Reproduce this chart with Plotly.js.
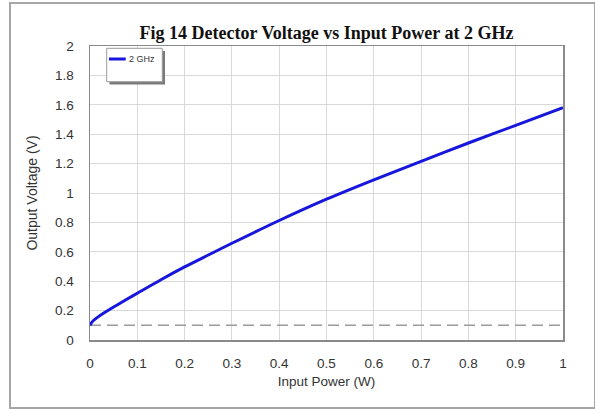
<!DOCTYPE html>
<html>
<head>
<meta charset="utf-8">
<script src="https://cdn.plot.ly/plotly-3.0.1.min.js"></script>
<style>
  html, body { margin: 0; padding: 0; background: #fff; }
  #wrap { position: relative; width: 595px; height: 409px; overflow: hidden; }
  #frame { position: absolute; left: 9px; top: 2px; width: 583px; height: 403px; border: 2px solid #a6a6a6; pointer-events: none; }
  #chart { position: absolute; left: 0; top: 0; width: 595px; height: 409px; }
</style>
</head>
<body>
<div id="wrap">
  <div id="chart"></div>
  <div id="frame"></div>
</div>
<script>
// Data
const seriesName = "2 GHz";
const inputPower = [0, 0.005, 0.015, 0.03, 0.05, 0.075, 0.1, 0.15, 0.2, 0.25, 0.3, 0.4, 0.5, 0.6, 0.7, 0.8, 0.9, 1.0];
const outputVoltage = [0.10, 0.125, 0.152, 0.185, 0.225, 0.272, 0.318, 0.41, 0.497, 0.578, 0.658, 0.813, 0.958, 1.09, 1.215, 1.34, 1.46, 1.58];
const referenceX = [0, 1];
const referenceY = [0.1, 0.1];

const chartTitle = "Fig 14 Detector Voltage vs Input Power at 2 GHz";
const xTitle = "Input Power (W)";
const yTitle = "Output Voltage (V)";

const traces = [
  {
    x: referenceX, y: referenceY, type: "scatter", mode: "lines",
    line: { color: "#9a9a9a", width: 1.5, dash: "11px,6px" },
    hoverinfo: "skip", showlegend: false
  },
  {
    x: inputPower, y: outputVoltage, type: "scatter", mode: "lines",
    name: seriesName,
    line: { color: "#1616dc", width: 3, shape: "spline", smoothing: 0.8 },
    showlegend: false
  }
];

// legend drawn as shapes (paper coordinates)
const L = 90, R = 563, T = 46, B = 340;
const px = v => (v - L) / (R - L);
const py = v => (B - v) / (B - T);

const shapes = [
  { type: "rect", xref: "paper", yref: "paper", layer: "above",
    x0: px(109.5), x1: px(165), y0: py(84.5), y1: py(51),
    fillcolor: "#7a7a7a", line: { width: 0 } },
  { type: "rect", xref: "paper", yref: "paper", layer: "above",
    x0: px(106.7), x1: px(162.3), y0: py(81.7), y1: py(48.3),
    fillcolor: "#ffffff", line: { color: "#9a9a9a", width: 1 } },
  { type: "line", xref: "paper", yref: "paper", layer: "above",
    x0: px(109), x1: px(125.7), y0: py(59), y1: py(59),
    line: { color: "#1616dc", width: 3 } }
];

const annotations = [
  { xref: "paper", yref: "paper", x: px(126.5), y: py(59), xanchor: "left", yanchor: "middle",
    text: seriesName, showarrow: false,
    font: { family: "Liberation Sans, Arial, sans-serif", size: 9, color: "#333" } }
];

const axisFont = { family: "Liberation Sans, Arial, sans-serif", size: 13.5, color: "#333" };

const layout = {
  width: 595, height: 409,
  margin: { l: L, r: 595 - R, t: T, b: 409 - B, pad: 0 },
  paper_bgcolor: "rgba(0,0,0,0)",
  plot_bgcolor: "#ffffff",
  showlegend: false,
  title: {
    text: chartTitle,
    font: { family: "Liberation Serif, Times New Roman, serif", size: 18, color: "#111", weight: "bold" },
    xref: "paper", x: 0.5, xanchor: "center",
    yref: "container", y: 1 - 33 / 409, yanchor: "middle"
  },
  xaxis: {
    range: [0, 1], dtick: 0.1, tick0: 0,
    showgrid: true, gridcolor: "#d9d9d9", gridwidth: 1,
    zeroline: false, showline: true, mirror: true, linecolor: "#8a8a8a", linewidth: 1.5,
    ticks: "", ticklabelstandoff: 10,
    tickfont: axisFont,
    title: { text: xTitle, font: { family: "Liberation Sans, Arial, sans-serif", size: 13.5, color: "#333" }, standoff: 7 }
  },
  yaxis: {
    range: [0, 2], dtick: 0.2, tick0: 0,
    showgrid: true, gridcolor: "#d9d9d9", gridwidth: 1,
    zeroline: false, showline: true, mirror: true, linecolor: "#8a8a8a", linewidth: 1.5,
    ticks: "", ticklabelstandoff: 12,
    tickfont: axisFont,
    title: { text: yTitle, font: { family: "Liberation Sans, Arial, sans-serif", size: 14, color: "#333" }, standoff: 14 }
  },
  shapes: shapes,
  annotations: annotations
};

Plotly.newPlot("chart", traces, layout, { staticPlot: true, displayModeBar: false });
</script>
</body>
</html>
